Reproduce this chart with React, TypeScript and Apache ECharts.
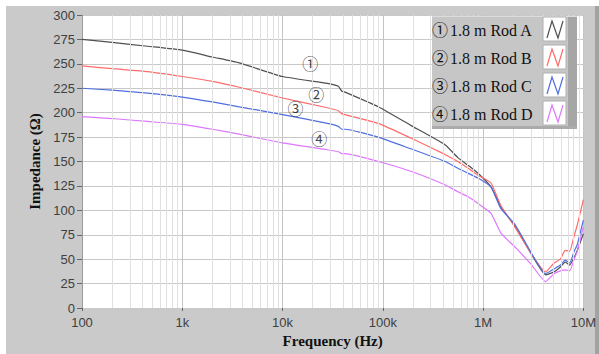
import React, { useEffect, useRef } from 'react';
import * as echarts from 'echarts';

const frequencies = [100, 200, 450, 1000, 2000, 3700, 10000, 28000, 36000, 39000, 42000, 90000, 190000, 420000, 560000, 710000, 890000, 1.2e6, 1.5e6, 2.1e6, 3e6, 4.2e6, 5.1e6, 5.9e6, 6.6e6, 7.3e6, 8.1e6, 8.7e6, 1e7];
const rodA = [275, 272, 268, 264, 257, 251, 237, 230, 227, 222, 221, 206, 187, 167, 154, 146, 138, 124, 104, 83, 56, 34, 37, 42, 47, 44, 52, 59, 76];
const rodB = [248, 245, 242, 237, 232, 226, 215, 205, 202, 199, 198, 189, 174, 157, 150, 143, 136, 128, 105, 82, 56, 37, 46, 50, 59, 58, 74, 85, 111];
const rodC = [225, 223, 220, 216, 211, 206, 198, 189, 186, 183, 183, 175, 163, 150, 143, 138, 133, 124, 102, 85, 57, 35, 40, 44, 49, 46, 58, 65, 90];
const rodD = [196, 194, 191, 188, 183, 178, 169, 162, 160, 158, 158, 150, 140, 126, 119, 114, 107, 97, 77, 62, 45, 27, 35, 38, 39, 38, 50, 58, 83];

const seriesNames = ['1.8 m Rod A', '1.8 m Rod B', '1.8 m Rod C', '1.8 m Rod D'];
const seriesMarks = ['①', '②', '③', '④'];
const seriesColors = ['#505050', '#ff6b6b', '#4f6fe0', '#dd77ff'];
const seriesValues = [rodA, rodB, rodC, rodD];

const xTickValues = [100, 1000, 10000, 100000, 1000000, 10000000];
const xTickLabels = ['100', '1k', '10k', '100k', '1M', '10M'];
const minorGridFreqs = [200, 300, 400, 500, 600, 700, 800, 900, 2000, 3000, 4000, 5000, 6000, 7000, 8000, 9000, 20000, 30000, 40000, 50000, 60000, 70000, 80000, 90000, 200000, 300000, 400000, 500000, 600000, 700000, 800000, 900000, 2e6, 3e6, 4e6, 5e6, 6e6, 7e6, 8e6, 9e6];

const annotationFreqs = [18900, 21700, 13500, 23200];
const annotationValues = [251, 219, 205, 174];

export default function App() {
  const ref = useRef<HTMLDivElement>(null);
  useEffect(() => {
    if (!ref.current) return;
    const chart = echarts.init(ref.current, null, { renderer: 'svg' });
    const serif = '"Liberation Serif", "Times New Roman", serif';
    const sans = '"Liberation Sans", Arial, sans-serif';
    const circFont = '"Noto Sans CJK JP", "DejaVu Sans", sans-serif';

    const lineSeries = seriesNames.map((name, i) => ({
      name,
      type: 'line',
      showSymbol: false,
      symbol: 'none',
      smooth: 0.15,
      z: 3,
      lineStyle: { color: seriesColors[i], width: 1.2 },
      data: frequencies.map((f, j) => [f, seriesValues[i][j]]),
    }));

    const legendGraphics: any[] = [
      { type: 'rect', z: 100, shape: { x: 432, y: 16, width: 145, height: 113 }, style: { fill: '#c6c6c6' } },
      { type: 'rect', z: 101, shape: { x: 568, y: 16, width: 9, height: 113 }, style: { fill: '#a6a6a6' } },
      { type: 'rect', z: 101, shape: { x: 432, y: 126, width: 145, height: 3 }, style: { fill: '#ababab' } },
      { type: 'rect', z: 101, shape: { x: 432, y: 16, width: 145, height: 1 }, style: { fill: '#dcdcdc' } },
    ];
    seriesNames.forEach((name, i) => {
      const cy = 29 + i * 28;
      legendGraphics.push({
        type: 'text', z: 102, x: 432, y: cy,
        style: { text: seriesMarks[i], font: `16px ${circFont}`, fill: '#111', verticalAlign: 'middle', align: 'left' },
      });
      legendGraphics.push({
        type: 'text', z: 102, x: 450, y: cy + 1,
        style: { text: name, font: `16px ${serif}`, fill: '#111', verticalAlign: 'middle', align: 'left' },
      });
      legendGraphics.push({
        type: 'rect', z: 102, shape: { x: 543, y: cy - 12, width: 23, height: 24 },
        style: { fill: '#ffffff', stroke: '#b0b0b0', lineWidth: 1 },
      });
      legendGraphics.push({
        type: 'polyline', z: 103,
        shape: { points: [[547, cy + 9], [552, cy - 8], [558, cy + 9], [563, cy - 8]] },
        style: { stroke: seriesColors[i], lineWidth: 1.2, fill: null },
      });
    });

    chart.setOption({
      animation: false,
      backgroundColor: '#cacaca',
      grid: { left: 82, right: 13, top: 15, bottom: 46, show: true, backgroundColor: '#ffffff', borderWidth: 0 },
      xAxis: {
        type: 'log',
        logBase: 10,
        min: xTickValues[0],
        max: xTickValues[xTickValues.length - 1],
        name: 'Frequency (Hz)',
        nameLocation: 'middle',
        nameGap: 25,
        nameTextStyle: { fontFamily: serif, fontSize: 15, fontWeight: 'bold', color: '#111' },
        axisLine: { show: false },
        axisTick: { show: true, length: 3, lineStyle: { color: '#666' } },
        axisLabel: {
          color: '#404040', fontSize: 13, fontFamily: sans, margin: 8,
          formatter: (v: number) => {
            const idx = xTickValues.findIndex((t) => Math.abs(Math.log10(t) - Math.log10(v)) < 1e-6);
            return idx >= 0 ? xTickLabels[idx] : '';
          },
        },
        splitLine: { show: true, lineStyle: { color: '#c4c4c4', width: 1 } },
      },
      yAxis: {
        type: 'value',
        min: 0,
        max: 300,
        interval: 25,
        name: 'Impedance (Ω)',
        nameLocation: 'middle',
        nameGap: 38,
        nameTextStyle: { fontFamily: serif, fontSize: 15, fontWeight: 'bold', color: '#111' },
        axisLine: { show: true, lineStyle: { color: '#9a9a9a' } },
        axisTick: { show: true, length: 5, lineStyle: { color: '#666' } },
        axisLabel: { color: '#404040', fontSize: 13, fontFamily: sans, margin: 7 },
        splitLine: { show: true, lineStyle: { color: '#c8c8c8', width: 1 } },
      },
      graphic: [
        { type: 'rect', z: 50, shape: { x: 0, y: 0, width: 599, height: 6 }, style: { fill: '#ffffff' } },
        { type: 'rect', z: 50, shape: { x: 0, y: 0, width: 6, height: 354 }, style: { fill: '#ffffff' } },
        { type: 'rect', z: -1, shape: { x: 595, y: 6, width: 4, height: 348 }, style: { fill: '#a2a2a2' } },
        ...legendGraphics,
      ],
      series: [
        {
          name: 'minorGrid',
          type: 'line',
          data: [],
          z: 1,
          silent: true,
          markLine: {
            silent: true,
            symbol: 'none',
            label: { show: false },
            lineStyle: { color: '#e0e0e0', width: 1, type: 'solid' },
            data: minorGridFreqs.map((f) => ({ xAxis: f })),
          },
        },
        ...lineSeries,
        {
          name: 'annotations',
          type: 'scatter',
          symbolSize: 0,
          z: 5,
          silent: true,
          data: annotationFreqs.map((f, i) => [f, annotationValues[i], seriesMarks[i]]),
          label: {
            show: true,
            position: 'inside',
            formatter: (p: any) => p.value[2],
            fontFamily: circFont,
            fontSize: 16,
            color: '#111',
          },
        },
      ],
    });
    return () => chart.dispose();
  }, []);
  return <div ref={ref} style={{ position: 'fixed', left: 0, top: 0, width: 599, height: 354 }} />;
}
